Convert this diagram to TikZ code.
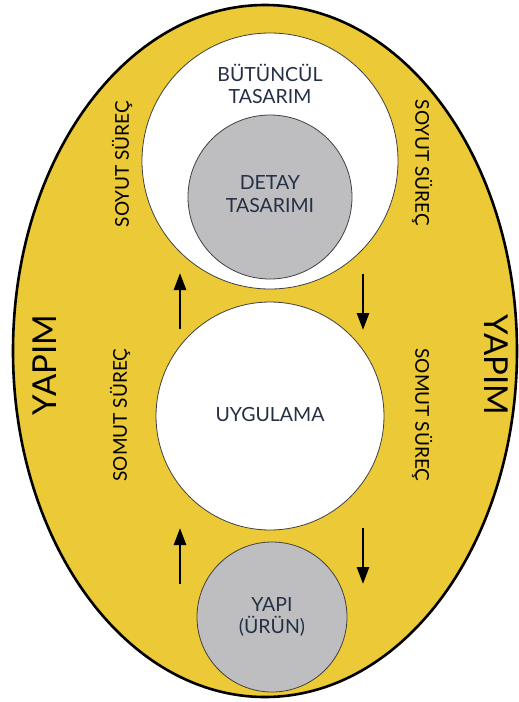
\documentclass[tikz,border=0pt]{standalone}
\usepackage{fontspec}
\setmainfont{Lato}
\usetikzlibrary{arrows.meta}
\definecolor{yel}{RGB}{236,201,54}
\definecolor{gry}{RGB}{190,190,192}
\definecolor{txt}{RGB}{36,48,68}
\tikzset{
  lbl/.style={text=txt,font=\fontsize{19.5}{22.5}\selectfont,align=center,inner sep=0pt},
  side/.style={text=black,font=\fontsize{19}{21}\selectfont,inner sep=0pt},
  big/.style={text=black,font=\fontsize{33}{35}\selectfont,inner sep=0pt},
  wcirc/.style={circle,draw=black!75,line width=0.8pt,fill=white,inner sep=0pt},
  gcirc/.style={circle,draw=black!75,line width=0.8pt,fill=gry,inner sep=0pt},
  flow/.style={line width=2.6pt,-{Triangle[width=12pt,length=17pt]}}
}
\begin{document}
\begin{tikzpicture}[x=1pt,y=-1pt]
\useasboundingbox (0,0) rectangle (519,702);
\fill[white] (0,0) rectangle (519,702);
\draw[fill=yel,line width=2.6pt] (265,351) ellipse [x radius=252,y radius=346];
\node[wcirc,minimum size=256pt] (top) at (270,161) {};
\node[gcirc,minimum size=164pt] (det) at (270,197) {};
\node[wcirc,minimum size=228pt] (uyg) at (270,416) {};
\node[gcirc,minimum size=150pt] (yap) at (272,617) {};
\node[lbl] (but) at (270,84) {BÜTÜNCÜL\\TASARIM};
\node[lbl] (dett) at (270,194) {DETAY\\TASARIMI};
\node[lbl] (uygt) at (270,415) {UYGULAMA};
\node[lbl] (yapt) at (272,617) {YAPI\\(ÜRÜN)};
\node[side,rotate=90] (s1) at (122,164) {SOYUT SÜREÇ};
\node[side,rotate=-90] (s2) at (422,163) {SOYUT SÜREÇ};
\node[side,rotate=90] (m1) at (120,415) {SOMUT SÜREÇ};
\node[side,rotate=-90] (m2) at (422,415) {SOMUT SÜREÇ};
\node[big,rotate=90] (y1) at (45,365) {YAPIM};
\node[big,rotate=-90] (y2) at (496,365) {YAPIM};
\coordinate (a1s) at (180,329);
\coordinate (a1e) at (180,273);
\coordinate (a2s) at (363,274);
\coordinate (a2e) at (363,330);
\coordinate (a3s) at (180,584);
\coordinate (a3e) at (180,528);
\coordinate (a4s) at (363,528);
\coordinate (a4e) at (363,584);
\draw[flow] (a1s) -- (a1e);
\draw[flow] (a2s) -- (a2e);
\draw[flow] (a3s) -- (a3e);
\draw[flow] (a4s) -- (a4e);
\end{tikzpicture}
\end{document}
